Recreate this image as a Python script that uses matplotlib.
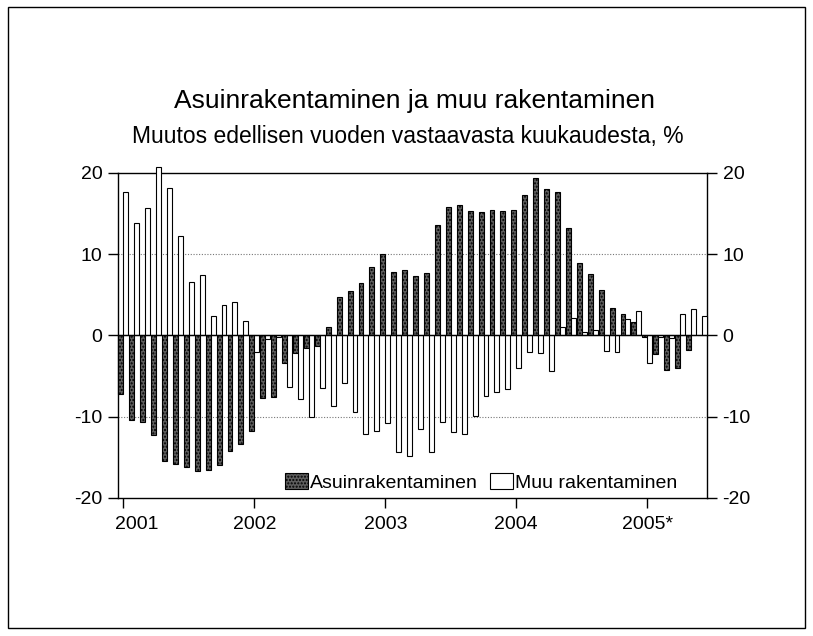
import matplotlib
matplotlib.use("Agg")
import matplotlib.pyplot as plt
import matplotlib.patches as mpatches
import matplotlib.transforms as mtransforms
import numpy as np

plt.rcParams['font.family'] = ['Liberation Sans', 'DejaVu Sans']
plt.rcParams['axes.unicode_minus'] = False

# kuukausittaiset muutokset, tammikuu 2001 - kesäkuu 2005
asuin = [-7.2, -10.4, -10.7, -12.2, -15.5, -15.8, -16.2, -16.7, -16.6, -15.9, -14.2, -13.4,
         -11.7, -7.7, -7.6, -3.4, -2.2, -1.5, -1.3, 1.1, 4.7, 5.5, 6.4, 8.4,
         10.0, 7.8, 8.0, 7.3, 7.7, 13.6, 15.8, 16.0, 15.3, 15.2, 15.5, 15.3,
         15.5, 17.3, 19.4, 18.0, 17.7, 13.2, 8.9, 7.6, 5.6, 3.4, 2.6, 1.6,
         -0.2, -2.3, -4.2, -4.0, -1.8, 0.1]
muu = [17.6, 13.8, 15.7, 20.7, 18.1, 12.2, 6.6, 7.5, 2.4, 3.8, 4.1, 1.8,
       -2.0, -0.4, -0.2, -6.3, -7.8, -10.0, -6.5, -8.7, -5.9, -9.4, -12.1, -11.7,
       -10.8, -14.3, -14.8, -11.5, -14.3, -10.7, -11.9, -12.1, -9.9, -7.4, -7.0, -6.6,
       -4.0, -2.0, -2.2, -4.4, 1.1, 2.2, 0.4, 0.7, -1.9, -2.0, 2.0, 3.0,
       -3.4, -0.2, -0.3, 2.6, 3.2, 2.4]
vuodet = ['2001', '2002', '2003', '2004', '2005*']

x = np.arange(len(asuin))
w = 0.45

fig = plt.figure(figsize=(8.13, 6.36), dpi=100)
ax = fig.add_axes([0.145, 0.217, 0.725, 0.511])

ax.bar(x - w / 2, asuin, w, facecolor='#5e5e5e', edgecolor='black', hatch='.....',
       linewidth=0.8, label='Asuinrakentaminen', zorder=3, clip_on=False)
ax.bar(x + w / 2, muu, w, facecolor='white', edgecolor='black',
       linewidth=0.8, label='Muu rakentaminen', zorder=3, clip_on=False)

ax.set_xlim(-0.5, len(asuin) - 0.5)
ax.set_ylim(-20, 20)
ax.set_yticks([-20, -10, 0, 10, 20])
ax.set_xticks(np.arange(0, len(asuin), 12))
ax.set_xticklabels(vuodet)
ax.axhline(0, color='black', linewidth=1, zorder=4)
for yv in [-10, 10]:
    ax.axhline(yv, color='#777777', linewidth=0.8, linestyle=(0, (1, 1.5)), zorder=1)

ax.tick_params(axis='both', direction='out', length=7, width=1, labelsize=14)
ax.tick_params(axis='y', right=True, labelright=True, pad=4)
ax.tick_params(axis='x', pad=6)
for s in ax.spines.values():
    s.set_linewidth(1)

# ensimmäinen vuosiluku vähän oikealle kuten alkuperäisessä
lbl = ax.get_xticklabels()[0]
lbl.set_transform(lbl.get_transform() + mtransforms.ScaledTranslation(0.13, 0, fig.dpi_scale_trans))

ax.legend(loc='lower center', bbox_to_anchor=(0.616, -0.035), ncol=2, frameon=False,
          fontsize=14, handlelength=1.2, handleheight=0.9, handletextpad=0.1,
          columnspacing=0.6)

fig.text(0.510, 0.841, 'Asuinrakentaminen ja muu rakentaminen', ha='center', va='center', fontsize=19)
fig.text(0.502, 0.785, 'Muutos edellisen vuoden vastaavasta kuukaudesta, %', ha='center',
         va='center', fontsize=16.5)

fig.patches.append(mpatches.Rectangle((0.01, 0.012), 0.98, 0.977, transform=fig.transFigure,
                                      fill=False, edgecolor='black', linewidth=1))

fig.savefig('out.png', dpi=100)
